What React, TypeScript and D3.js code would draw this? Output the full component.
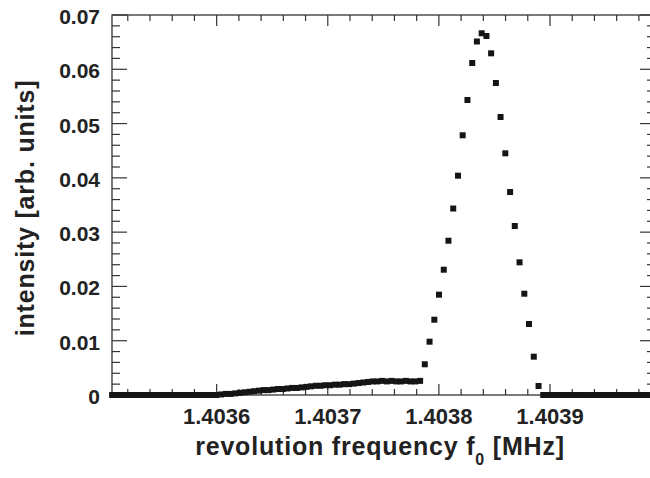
import React from 'react';
import * as d3 from 'd3';

// revolution frequency samples [MHz]
const frequencies = [
  1.4035059, 1.4035102, 1.4035144, 1.4035187, 1.4035230, 1.4035272, 1.4035315, 1.4035357, 1.4035400, 1.4035443,
  1.4035485, 1.4035528, 1.4035571, 1.4035613, 1.4035656, 1.4035699, 1.4035741, 1.4035784, 1.4035827, 1.4035869,
  1.4035912, 1.4035954, 1.4035997, 1.4036040, 1.4036082, 1.4036125, 1.4036168, 1.4036210, 1.4036253, 1.4036296,
  1.4036338, 1.4036381, 1.4036423, 1.4036466, 1.4036509, 1.4036551, 1.4036594, 1.4036637, 1.4036679, 1.4036722,
  1.4036765, 1.4036807, 1.4036850, 1.4036893, 1.4036935, 1.4036978, 1.4037020, 1.4037063, 1.4037106, 1.4037148,
  1.4037191, 1.4037234, 1.4037276, 1.4037319, 1.4037362, 1.4037404, 1.4037447, 1.4037489, 1.4037532, 1.4037575,
  1.4037617, 1.4037660, 1.4037703, 1.4037745, 1.4037788, 1.4037831, 1.4037873, 1.4037916, 1.4037959, 1.4038001,
  1.4038044, 1.4038086, 1.4038129, 1.4038172, 1.4038214, 1.4038257, 1.4038300, 1.4038342, 1.4038385, 1.4038428,
  1.4038470, 1.4038513, 1.4038555, 1.4038598, 1.4038641, 1.4038683, 1.4038726, 1.4038769, 1.4038811, 1.4038854,
  1.4038897, 1.4038939, 1.4038982, 1.4039025, 1.4039067, 1.4039110, 1.4039152, 1.4039195, 1.4039238, 1.4039280,
  1.4039323, 1.4039366, 1.4039408, 1.4039451, 1.4039494, 1.4039536, 1.4039579, 1.4039621, 1.4039664, 1.4039707,
  1.4039749, 1.4039792, 1.4039835, 1.4039877,
];

// intensity [arb. units]
const intensities = [
  0, 0, 0, 0, 0, 0, 0, 0, 0, 0,
  0, 0, 0, 0, 0, 0, 0, 0, 0, 0,
  0, 0, 0, 0.0001, 0.0002, 0.0002, 0.0003, 0.0004, 0.0005, 0.0006,
  0.0007, 0.0008, 0.0009, 0.0009, 0.0010, 0.0011, 0.0011, 0.0012, 0.0013, 0.0013,
  0.0014, 0.0015, 0.0016, 0.0017, 0.0017, 0.0018, 0.0018, 0.0019, 0.0019, 0.0020,
  0.0020, 0.0021, 0.0022, 0.0023, 0.0024, 0.0025, 0.0025, 0.0026, 0.0025, 0.0026,
  0.0025, 0.0025, 0.0026, 0.0025, 0.0025, 0.0026, 0.00566, 0.00982, 0.01387, 0.01848,
  0.02308, 0.02842, 0.03435, 0.04040, 0.04784, 0.05434, 0.06116, 0.06512, 0.06663, 0.06613,
  0.06294, 0.05747, 0.05121, 0.04452, 0.03739, 0.03113, 0.02444, 0.01866, 0.01308, 0.00706,
  0.00166, 0, 0, 0, 0, 0, 0, 0, 0, 0,
  0, 0, 0, 0, 0, 0, 0, 0, 0, 0,
  0, 0, 0, 0,
];

const xMajorTicks = [1.4036, 1.4037, 1.4038, 1.4039];
const xTickLabels = ['1.4036', '1.4037', '1.4038', '1.4039'];
const yMajorTicks = [0, 0.01, 0.02, 0.03, 0.04, 0.05, 0.06, 0.07];
const yTickLabels = ['0', '0.01', '0.02', '0.03', '0.04', '0.05', '0.06', '0.07'];

const xTitleMain = 'revolution frequency f';
const xTitleSub = '0';
const xTitleEnd = ' [MHz]';
const yTitle = 'intensity [arb. units]';

export default function App() {
  const W = 650;
  const H = 478;
  const L = 112, T = 15, R = 655, B = 395;
  const x = d3.scaleLinear().domain([1.4035058, 1.4039945]).range([L, R]);
  const y = d3.scaleLinear().domain([0, 0.07]).range([B, T]);

  const xMinor = d3.range(1, 25)
    .filter((k) => k % 5 !== 0)
    .map((k) => (1403500 + k * 20) / 1e6);
  const yMinor = d3.range(1, 35)
    .filter((k) => k % 5 !== 0)
    .map((k) => k * 0.002);

  const font = "'Liberation Sans', Arial, Helvetica, sans-serif";
  const axisColor = '#333';
  const textColor = '#222';
  const ms = 6;

  return (
    <svg
      width={W}
      height={H}
      viewBox={`0 0 ${W} ${H}`}
      style={{ position: 'absolute', left: 0, top: 0, background: '#fff' }}
      fontFamily={font}
    >
      <rect x={0} y={0} width={W} height={H} fill="#fff" />
      {/* frame */}
      <rect x={L} y={T} width={R - L} height={B - T} fill="none" stroke={axisColor} strokeWidth={1.3} />

      {/* x ticks: bottom & top, inward */}
      {xMajorTicks.map((v) => (
        <g key={'xM' + v}>
          <line x1={x(v)} x2={x(v)} y1={B} y2={B - 11} stroke={axisColor} strokeWidth={1.2} />
          <line x1={x(v)} x2={x(v)} y1={T} y2={T + 11} stroke={axisColor} strokeWidth={1.2} />
        </g>
      ))}
      {xMinor.map((v) => (
        <g key={'xm' + v}>
          <line x1={x(v)} x2={x(v)} y1={B} y2={B - 6} stroke={axisColor} strokeWidth={1.2} />
          <line x1={x(v)} x2={x(v)} y1={T} y2={T + 6} stroke={axisColor} strokeWidth={1.2} />
        </g>
      ))}
      {/* y ticks: left & right, inward */}
      {yMajorTicks.map((v) => (
        <g key={'yM' + v}>
          <line x1={L} x2={L + 15} y1={y(v)} y2={y(v)} stroke={axisColor} strokeWidth={1.2} />
          <line x1={R} x2={R - 15} y1={y(v)} y2={y(v)} stroke={axisColor} strokeWidth={1.2} />
        </g>
      ))}
      {yMinor.map((v) => (
        <g key={'ym' + v}>
          <line x1={L} x2={L + 8} y1={y(v)} y2={y(v)} stroke={axisColor} strokeWidth={1.2} />
          <line x1={R} x2={R - 8} y1={y(v)} y2={y(v)} stroke={axisColor} strokeWidth={1.2} />
        </g>
      ))}

      {/* data */}
      <g fill="#151515">
        {frequencies.map((f, i) => (
          <rect key={i} x={x(f) - ms / 2} y={y(intensities[i]) - ms / 2} width={ms} height={ms} />
        ))}
      </g>

      {/* tick labels */}
      {xMajorTicks.map((v, i) => (
        <text key={'xl' + v} x={x(v)} y={424} textAnchor="middle" fontSize={22} fontWeight="bold" fill={textColor}>
          {xTickLabels[i]}
        </text>
      ))}
      {yMajorTicks.map((v, i) => (
        <text key={'yl' + v} x={100} y={y(v) + 9} textAnchor="end" fontSize={21} fontWeight="bold" fill={textColor}>
          {yTickLabels[i]}
        </text>
      ))}

      {/* axis titles */}
      <text x={380} y={455} textAnchor="middle" fontSize={25} letterSpacing={0.8} fontWeight="bold" fill={textColor}>
        {xTitleMain}
        <tspan fontSize={16} dy={10}>{xTitleSub}</tspan>
        <tspan dy={-10}>{xTitleEnd}</tspan>
      </text>
      <text
        transform={`translate(34, 208) rotate(-90)`}
        textAnchor="middle"
        fontSize={25}
        letterSpacing={0.8}
        fontWeight="bold"
        fill={textColor}
      >
        {yTitle}
      </text>
    </svg>
  );
}
